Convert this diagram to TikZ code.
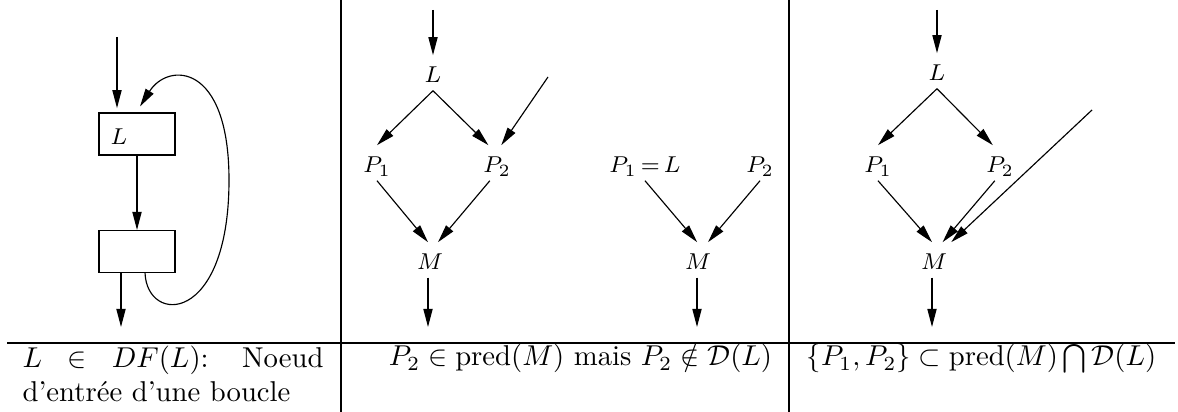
\documentclass[tikz,border=0pt]{standalone}
\usepackage{amsmath}
\usepackage{tikz}
\usetikzlibrary{arrows.meta}

\tikzset{
	arr/.style={-{Triangle[length=6.3pt,width=3.2pt]}, line width=0.4pt},
	lbl/.style={font=\footnotesize, inner sep=0pt, text height=9.5pt, text depth=2.5pt, anchor=base},
	bloc/.style={draw, line width=0.4pt, minimum width=26.5pt, minimum height=14.6pt, inner sep=0pt}
}

\begin{document}
\begin{tikzpicture}[x=0.01225cm, y=-0.01225cm]
				\useasboundingbox (0,0) rectangle (1178,412);
				% Table rules
				\foreach \x in {341,789}
					\draw[line width=0.4pt] (\x,0) -- (\x,412);
				\draw[line width=0.4pt] (7,343) -- (1175,343);
				% Loop
				\node[bloc] (B1) at (137,134) {};
				\node[font=\footnotesize] (LB) at (119,137) {$L$};
				\node[bloc] (B2) at (137,251.5) {};
				\coordinate (in1) at (117,37);
				\coordinate (out1) at (121,327);
				\draw[arr, shorten >=1.5pt] (in1) -- (in1 |- B1.north);
				\draw[arr] (B1) -- (B2);
				\draw[arr] (out1 |- B2.south) -- (out1);
				\draw[arr] ([xshift=2.8pt]B2.south) .. controls (147,325) and (229,325) .. (229,180)
					.. controls (229,62) and (168,62) .. ([shift={(3,-6)}]B1.north);
				% Left graph
				\node[lbl] (L) at (433,83) {$L$};
				\node[lbl] (P1) at (377,173) {$P_1$};
				\node[lbl] (P2) at (497,173) {$P_2$};
				\node[lbl] (M) at (430,270) {$M$};
				\coordinate (inL) at (433,10);
				\coordinate (extP) at (548,77);
				\coordinate (outM) at (428,327);
				\draw[arr] (inL) -- (L);
				\draw[arr] (L.south) -- (P1.north);
				\draw[arr] (L.south) -- ([xshift=-3pt]P2.north);
				\draw[arr] (extP) -- ([xshift=1.5pt]P2.north);
				\draw[arr] (P1.south) -- ([xshift=-0.7pt]M.north);
				\draw[arr] ([xshift=-2.5pt]P2.south) -- ([xshift=2.8pt]M.north);
				\draw[arr] (outM |- M.south) -- (outM);
				% Right graph
				\node[lbl] (PL) at (645,173) {$P_1\mskip-2mu=\mskip-2mu L$};
				\node[lbl] (Q2) at (760,173) {$P_2$};
				\node[lbl] (N) at (698,270) {$M$};
				\coordinate (outN) at (697,327);
				\draw[arr] (PL.south) -- ([xshift=-0.3pt]N.north);
				\draw[arr] (Q2.south) -- ([xshift=3.5pt]N.north);
				\draw[arr] (outN |- N.south) -- (outN);
				% Third graph
				\node[lbl] (L3) at (937,81) {$L$};
				\node[lbl] (P13) at (878,173) {$P_1$};
				\node[lbl] (P23) at (1000,173) {$P_2$};
				\node[lbl] (M3) at (934,270) {$M$};
				\coordinate (in3) at (937,10);
				\coordinate (ext3) at (1092,110);
				\coordinate (out3) at (932,327);
				\draw[arr] (in3) -- (L3);
				\draw[arr] (L3.south) -- (P13.north);
				\draw[arr] (L3.south) -- ([xshift=-2.5pt]P23.north);
				\draw[arr] (P13.south) -- ([xshift=-0.7pt]M3.north);
				\draw[arr] ([xshift=-1.8pt]P23.south) -- ([xshift=3pt]M3.north);
				\draw[arr] (ext3) -- ([xshift=6pt]M3.north);
				\draw[arr] (out3 |- M3.south) -- (out3);
				% Captions
				\node[anchor=north west, inner sep=0pt, text width=104.9pt, align=justify] (C1) at (22,345)
					{\hyphenpenalty=10000 $L \in DF(L)$: Noeud d'entrée d'une boucle};
				\node[anchor=base] (C2) at (580.5,366) {$P_2 \in \mathrm{pred}(M)$ mais $P_2 \notin \mathcal{D}(L)$};
				\node[anchor=base] (C3) at (981.5,366) {$\{P_1, P_2\} \subset \mathrm{pred}(M) \bigcap \mathcal{D}(L)$};
			\end{tikzpicture}
\end{document}
